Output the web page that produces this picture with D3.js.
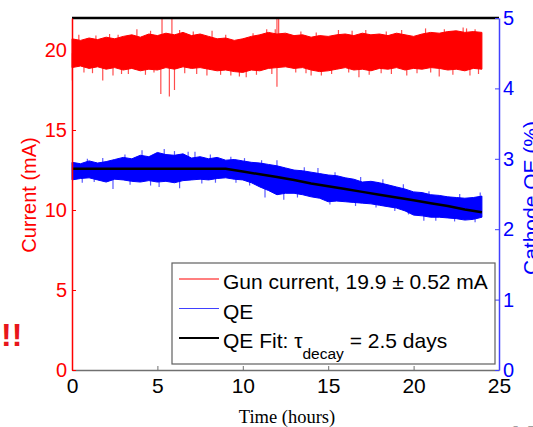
<!DOCTYPE html>
<html>
<head>
<meta charset="utf-8">
<script src="https://cdn.jsdelivr.net/npm/d3@7"></script>
<style>
  body { margin: 0; background: #fff; }
  svg { display: block; font-family: "Liberation Sans", Arial, sans-serif; }
</style>
</head>
<body>
<svg id="chart"></svg>
<script>
// Time bins (hours), half-hour steps
const hours = [0, 0.5, 1, 1.5, 2, 2.5, 3, 3.5, 4, 4.5, 5, 5.5, 6, 6.5, 7, 7.5, 8, 8.5, 9, 9.5,
    10, 10.5, 11, 11.5, 12, 12.5, 13, 13.5, 14, 14.5, 15, 15.5, 16, 16.5, 17, 17.5, 18, 18.5, 19, 19.5,
    20, 20.5, 21, 21.5, 22, 22.5, 23, 23.5, 24];

// Gun current envelope (mA)
const currentHigh = [20.7, 20.6, 20.75, 20.65, 20.8, 20.7, 20.85, 20.95, 20.8, 21.0, 20.9, 21.05, 20.95, 21.1, 20.9, 21.0, 20.85, 20.7, 20.75, 20.6,
    20.7, 20.85, 20.95, 21.1, 21.0, 21.05, 20.9, 20.95, 20.8, 20.9, 20.85, 20.95, 21.0, 20.9, 21.05, 20.95, 21.0, 20.9, 21.05, 20.95,
    20.85, 21.0, 21.1, 21.05, 21.15, 21.2, 21.1, 21.15, 21.1];
const currentLow = [18.9, 19.0, 18.85, 18.95, 18.8, 18.9, 18.75, 18.85, 18.7, 18.8, 18.75, 18.9, 18.8, 18.95, 18.85, 18.9, 18.8, 18.7, 18.75, 18.65,
    18.6, 18.75, 18.7, 18.85, 18.9, 18.95, 18.85, 18.9, 18.75, 18.65, 18.7, 18.8, 18.9, 18.75, 18.8, 18.7, 18.85, 18.8, 18.9, 18.75,
    18.85, 18.8, 18.9, 18.85, 18.75, 18.8, 18.7, 18.85, 18.8];

// Cathode QE envelope (%)
const qeHigh = [2.95, 2.93, 2.97, 2.94, 2.96, 2.99, 3.02, 3.0, 3.05, 3.03, 3.09, 3.06, 3.05, 3.07, 3.01, 3.03, 3.0, 3.02, 2.98, 2.99,
    2.97, 2.95, 2.94, 2.92, 2.9, 2.87, 2.84, 2.83, 2.81, 2.79, 2.77, 2.76, 2.73, 2.71, 2.67, 2.68, 2.66, 2.63, 2.6, 2.57,
    2.53, 2.52, 2.49, 2.48, 2.46, 2.45, 2.44, 2.45, 2.47];
const qeLow = [2.7, 2.72, 2.73, 2.7, 2.67, 2.71, 2.7, 2.68, 2.67, 2.69, 2.67, 2.68, 2.66, 2.69, 2.7, 2.71, 2.7, 2.72, 2.73, 2.71,
    2.7, 2.66, 2.6, 2.55, 2.49, 2.51, 2.51, 2.49, 2.46, 2.44, 2.39, 2.4, 2.39, 2.38, 2.37, 2.36, 2.34, 2.32, 2.3, 2.26,
    2.2, 2.19, 2.17, 2.17, 2.16, 2.15, 2.13, 2.14, 2.17];

// QE fit (%), hourly
const fitHours = [0, 1, 2, 3, 4, 5, 6, 7, 8, 9, 10, 11, 12, 13, 14, 15, 16, 17, 18, 19, 20, 21, 22, 23, 24];
const qeFit = [2.86, 2.86, 2.86, 2.86, 2.86, 2.86, 2.86, 2.86, 2.86, 2.86, 2.82, 2.78, 2.74, 2.7, 2.65, 2.61,
    2.57, 2.53, 2.49, 2.45, 2.41, 2.37, 2.33, 2.28, 2.24];

// Isolated spikes [hour, value]
const currentSpikes = [[0.02, 18.1], [1.8, 18.1], [2.4, 18.4], [3.3, 18.5], [5.2, 17.25], [5.7, 17.1], [6.0, 17.5],
    [7.9, 18.4], [10.2, 18.3], [12.0, 17.7], [14.0, 18.4], [16.8, 18.3], [19.6, 18.4], [21.5, 18.35], [23.3, 18.4],
    [5.27, 22], [5.85, 22], [12.0, 22], [12.1, 22], [3.8, 21.3], [8.2, 21.2], [11.4, 21.3], [15.6, 21.25],
    [20.7, 21.35], [22.9, 21.4],
    [0.7, 18.6], [1.2, 18.55], [2.9, 18.5], [4.3, 18.45], [4.8, 18.6], [6.6, 18.55], [7.3, 18.5], [8.7, 18.45],
    [9.3, 18.4], [9.8, 18.35], [10.8, 18.45], [11.7, 18.5], [13.1, 18.6], [13.7, 18.55], [14.6, 18.4], [15.2, 18.5],
    [16.2, 18.6], [17.4, 18.45], [18.1, 18.55], [18.7, 18.5], [20.2, 18.55], [21.0, 18.6], [22.3, 18.45], [23.8, 18.5],
    [0.4, 20.95], [1.4, 20.9], [2.2, 21.0], [2.7, 20.95], [4.6, 21.2], [6.3, 21.25], [7.1, 21.15], [9.0, 20.95],
    [10.6, 21.05], [11.9, 21.3], [13.4, 21.15], [14.3, 21.1], [16.4, 21.2], [17.2, 21.25], [18.4, 21.15], [19.3, 21.25],
    [21.8, 21.3], [23.1, 21.35], [23.6, 21.3]];
const qeSpikes = [[2.4, 2.57], [5.1, 2.6], [6.3, 2.58], [11.3, 2.45], [12.4, 2.42], [20.6, 2.12], [23.6, 2.1],
    [4.1, 3.12], [5.4, 3.14], [7.2, 3.1], [12.0, 2.98], [14.4, 2.87], [23.9, 2.52],
    [0.6, 2.66], [1.3, 2.67], [3.4, 2.63], [4.6, 2.62], [7.6, 2.65], [8.4, 2.66], [9.6, 2.66], [10.4, 2.62],
    [13.2, 2.45], [15.1, 2.35], [16.6, 2.33], [17.8, 2.31], [18.9, 2.26], [19.7, 2.21], [21.3, 2.12], [22.4, 2.11],
    [0.9, 3.0], [1.8, 3.01], [3.1, 3.06], [6.0, 3.11], [6.8, 3.1], [8.1, 3.06], [9.3, 3.03], [10.1, 3.01],
    [11.1, 2.98], [13.6, 2.88], [15.4, 2.81], [16.9, 2.74], [18.2, 2.71], [19.4, 2.64], [20.9, 2.54], [22.7, 2.5]];

// Ticks
const xTicks = [0, 5, 10, 15, 20, 25];
const currentTicks = [0, 5, 10, 15, 20];
const qeTicks = [0, 1, 2, 3, 4, 5];

const legendLabels = ['Gun current, 19.9 \u00B1 0.52 mA', 'QE', 'QE Fit: '];

const svgWidth = 533;
const svgHeight = 427;
const margin = { top: 18, right: 34, bottom: 57, left: 72 };
const plotRight = svgWidth - margin.right;
const plotBottom = svgHeight - margin.bottom;

const red = '#ff0000';
const blue = '#0000ff';

const svg = d3.select('#chart')
    .attr('width', svgWidth)
    .attr('height', svgHeight);

// Scales
const x = d3.scaleLinear().domain([0, 25]).range([margin.left, plotRight]);
const yCur = d3.scaleLinear().domain([0, 22]).range([plotBottom, margin.top]);
const yQE = d3.scaleLinear().domain([0, 5]).range([plotBottom, margin.top]);

// Current band
const curArea = d3.area()
    .x((d, i) => x(hours[i]))
    .y0((d, i) => yCur(currentLow[i]))
    .y1((d, i) => yCur(currentHigh[i]));
svg.append('path')
    .datum(hours)
    .attr('d', curArea)
    .attr('fill', red)
    .attr('stroke', red)
    .attr('stroke-width', 1);

svg.selectAll('.cur-spike')
    .data(currentSpikes)
    .enter()
    .append('line')
    .attr('class', 'cur-spike')
    .attr('x1', d => x(d[0]))
    .attr('x2', d => x(d[0]))
    .attr('y1', d => { const i = Math.round(d[0] * 2); return yCur((currentHigh[i] + currentLow[i]) / 2); })
    .attr('y2', d => yCur(d[1]))
    .attr('stroke', red)
    .attr('stroke-opacity', 0.7)
    .attr('stroke-width', 1.2);

// QE band
const qeArea = d3.area()
    .x((d, i) => x(hours[i]))
    .y0((d, i) => yQE(qeLow[i]))
    .y1((d, i) => yQE(qeHigh[i]));
svg.append('path')
    .datum(hours)
    .attr('d', qeArea)
    .attr('fill', blue)
    .attr('stroke', blue)
    .attr('stroke-width', 1);

svg.selectAll('.qe-spike')
    .data(qeSpikes)
    .enter()
    .append('line')
    .attr('class', 'qe-spike')
    .attr('x1', d => x(d[0]))
    .attr('x2', d => x(d[0]))
    .attr('y1', d => { const i = Math.round(d[0] * 2); return yQE((qeHigh[i] + qeLow[i]) / 2); })
    .attr('y2', d => yQE(d[1]))
    .attr('stroke', blue)
    .attr('stroke-opacity', 0.65)
    .attr('stroke-width', 1.2);

// Fit line
svg.append('path')
    .datum(fitHours)
    .attr('d', d3.line().x(d => x(d)).y((d, i) => yQE(qeFit[i])))
    .attr('fill', 'none')
    .attr('stroke', '#000')
    .attr('stroke-width', 2.5);

// Top border
svg.append('line')
    .attr('x1', margin.left).attr('x2', plotRight)
    .attr('y1', margin.top).attr('y2', margin.top)
    .attr('stroke', '#000')
    .attr('stroke-width', 2.5);

const fontFamily = '"Liberation Sans", Arial, sans-serif';

// x axis
const xAxis = svg.append('g')
    .attr('transform', `translate(0, ${plotBottom})`)
    .call(d3.axisBottom(x).tickValues(xTicks).tickSizeInner(-4).tickSizeOuter(0).tickPadding(8));
xAxis.select('.domain').attr('stroke', '#707070').attr('stroke-width', 1.5);
xAxis.selectAll('.tick line').attr('stroke', '#707070');
xAxis.selectAll('text').attr('fill', '#000').attr('font-size', 21).attr('font-family', fontFamily);

// Left axis (current)
const yAxisL = svg.append('g')
    .attr('transform', `translate(${margin.left}, 0)`)
    .call(d3.axisLeft(yCur).tickValues(currentTicks).tickSizeInner(-4).tickSizeOuter(0).tickPadding(5));
yAxisL.select('.domain').attr('stroke', red).attr('stroke-width', 1.5);
yAxisL.selectAll('.tick line').attr('stroke', red);
yAxisL.selectAll('text').attr('fill', red).attr('font-size', 20).attr('font-family', fontFamily);

// Right axis (QE)
const yAxisR = svg.append('g')
    .attr('transform', `translate(${plotRight}, 0)`)
    .call(d3.axisRight(yQE).tickValues(qeTicks).tickFormat(d3.format('d'))
        .tickSizeInner(-4).tickSizeOuter(0).tickPadding(4));
yAxisR.select('.domain').attr('stroke', '#4040ff').attr('stroke-width', 1.5);
yAxisR.selectAll('.tick line').attr('stroke', '#4040ff');
yAxisR.selectAll('text').attr('fill', blue).attr('font-size', 20).attr('font-family', fontFamily);

// Axis titles
svg.append('text')
    .attr('transform', 'translate(36, 195) rotate(-90)')
    .attr('text-anchor', 'middle')
    .attr('fill', red)
    .attr('font-size', 20)
    .text('Current (mA)');

svg.append('text')
    .attr('transform', 'translate(538, 198) rotate(-90)')
    .attr('text-anchor', 'middle')
    .attr('fill', blue)
    .attr('font-size', 21)
    .text('Cathode QE (%)');

svg.append('text')
    .attr('x', 287)
    .attr('y', 423)
    .attr('text-anchor', 'middle')
    .attr('font-family', '"Liberation Serif", "Times New Roman", serif')
    .attr('font-size', 18.5)
    .attr('fill', '#000')
    .text('Time (hours)');

// Legend
const legend = svg.append('g');
legend.append('rect')
    .attr('x', 172).attr('y', 263)
    .attr('width', 323).attr('height', 101)
    .attr('fill', '#fff')
    .attr('stroke', '#606060')
    .attr('stroke-width', 1.2);

const legendColors = [red, '#4040ff', '#000'];
const legendWidths = [1.2, 1.2, 2];
legendLabels.forEach((label, i) => {
    const ly = 279 + i * 29.5;
    legend.append('line')
        .attr('x1', 179).attr('x2', 219)
        .attr('y1', ly).attr('y2', ly)
        .attr('stroke', legendColors[i])
        .attr('stroke-width', legendWidths[i]);
    const t = legend.append('text')
        .attr('x', 223)
        .attr('y', ly + 10)
        .attr('font-size', 21)
        .attr('fill', '#000')
        .text(label);
    if (i === 2) {
        t.append('tspan').text('\u03C4');
        t.append('tspan').attr('dy', 11).attr('font-size', 15.5).text('decay');
        t.append('tspan').attr('dy', -11).attr('font-size', 21).text(' = 2.5 days');
    }
});

// Side marks
svg.append('text')
    .attr('x', 1)
    .attr('y', 346)
    .attr('font-size', 32)
    .attr('font-weight', 'bold')
    .attr('fill', '#e8161b')
    .text('!!');

svg.append('text')
    .attr('x', 504)
    .attr('y', 454)
    .attr('font-size', 40)
    .attr('fill', '#a0a0a0')
    .text('17');
</script>
</body>
</html>
